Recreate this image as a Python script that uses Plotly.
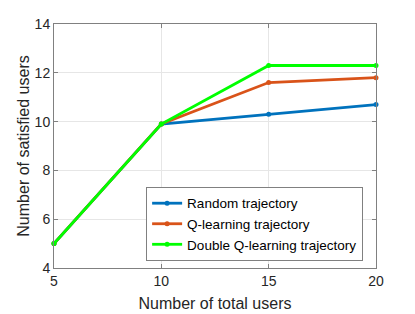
import plotly.graph_objects as go

x_users = [5, 10, 15, 20]
random_traj = [5, 9.9, 10.3, 10.7]
q_traj = [5, 9.9, 11.6, 11.8]
dq_traj = [5, 9.9, 12.3, 12.3]

series = [
    ("Random trajectory", random_traj, "#0072BD"),
    ("Q-learning trajectory", q_traj, "#D95319"),
    ("Double Q-learning trajectory", dq_traj, "#00FF00"),
]

fig = go.Figure()
for name, ys, col in series:
    fig.add_trace(go.Scatter(x=x_users, y=ys, name=name, mode="lines+markers",
                             line=dict(color=col, width=2.8),
                             marker=dict(color=col, size=5), cliponaxis=False))

axis_common = dict(showline=True, linecolor="#808080", linewidth=1, mirror="ticks",
                   ticks="inside", ticklen=4, tickcolor="#808080", automargin=False,
                   showgrid=True, gridcolor="#E6E6E6", gridwidth=1, zeroline=False,
                   tickfont=dict(family="Liberation Sans, Arial", size=14, color="#262626"),
                   title_font=dict(family="Liberation Sans, Arial", size=16, color="#262626"))

fig.update_layout(
    width=415, height=314,
    margin=dict(l=46, r=47, t=16, b=54, autoexpand=False),
    paper_bgcolor="white", plot_bgcolor="white",
    xaxis=dict(range=[5, 20], tickvals=[5, 10, 15, 20], title=dict(text="Number of total users", standoff=10), **axis_common),
    yaxis=dict(range=[4, 14], tickvals=[4, 6, 8, 10, 12, 14], title=dict(text="Number of satisfied users", standoff=1), **axis_common),
    legend=dict(x=0.96, y=0.029, xanchor="right", yanchor="bottom",
                bordercolor="#808080", borderwidth=1, bgcolor="white",
                font=dict(family="Liberation Sans, Arial", size=13.5, color="black"),
                tracegroupgap=0, itemwidth=30),
    showlegend=True,
)
fig.write_html("out.html")
